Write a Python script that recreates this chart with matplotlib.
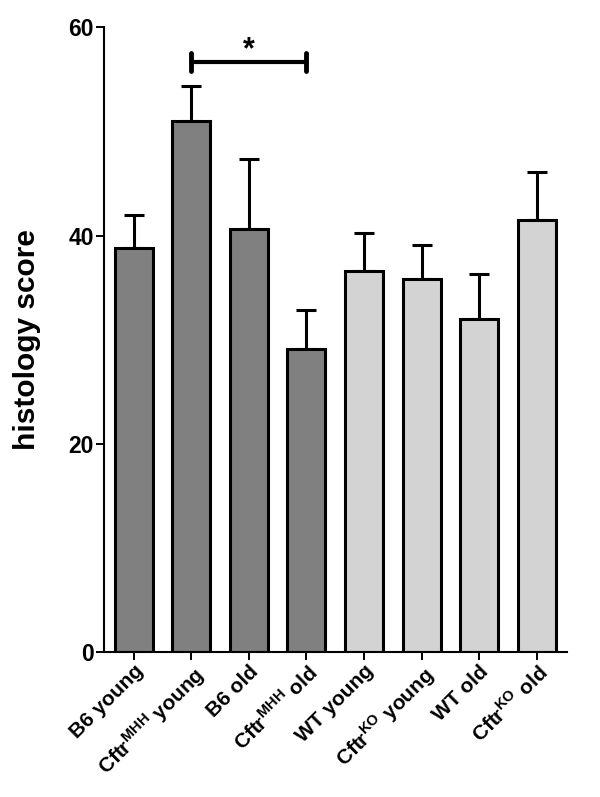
import matplotlib
matplotlib.use("Agg")
import matplotlib.pyplot as plt
import numpy as np

plt.rcParams['font.family'] = ['Liberation Sans', 'DejaVu Sans']
plt.rcParams['font.weight'] = 'bold'
plt.rcParams['mathtext.fontset'] = 'custom'
plt.rcParams['mathtext.rm'] = 'Liberation Sans:bold'
plt.rcParams['mathtext.bf'] = 'Liberation Sans:bold'

# data
groups = ['B6 young', r'Cftr$^{\mathrm{MHH}}$ young', 'B6 old', r'Cftr$^{\mathrm{MHH}}$ old',
          'WT young', r'Cftr$^{\mathrm{KO}}$ young', 'WT old', r'Cftr$^{\mathrm{KO}}$ old']
means = [38.8, 51.0, 40.6, 29.1, 36.6, 35.8, 32.0, 41.5]
upper = [42.0, 54.4, 47.4, 32.9, 40.3, 39.1, 36.3, 46.1]
colors = ['#808080'] * 4 + ['#d3d3d3'] * 4
sig_pair = (1, 3)
sig_y = 56.7

x = np.arange(len(groups))
err = np.array(upper) - np.array(means)

fig = plt.figure(figsize=(6, 7.97), dpi=100)
ax = fig.add_axes([0.173, 0.182, 0.7715, 0.7835])

ax.bar(x, means, width=0.66, color=colors, edgecolor='black', linewidth=2.2, zorder=2)
ax.errorbar(x, means, yerr=[np.zeros_like(err), err], fmt='none', ecolor='black',
            elinewidth=2.2, capsize=7.5, capthick=2.2, zorder=1)

# significance bracket
ax.plot([sig_pair[0], sig_pair[1]], [sig_y, sig_y], color='black', lw=3, solid_capstyle='butt')
for xx in sig_pair:
    ax.plot([xx, xx], [sig_y - 0.85, sig_y + 0.85], color='black', lw=3.5, solid_capstyle='round')
ax.text(np.mean(sig_pair), sig_y + 0.35, '*', ha='center', va='baseline', fontsize=22, fontweight='bold')

ax.set_xlim(-0.52, 7.52)
ax.set_ylim(0, 60)
ax.set_yticks([0, 20, 40, 60])
ax.set_xticks(x)
ax.set_xticklabels(groups, rotation=45, ha='right', rotation_mode='anchor', fontsize=15,
                   fontweight='bold')
ax.tick_params(axis='y', labelsize=16.5, width=1.4, length=6, pad=1)
ax.tick_params(axis='x', width=1.4, length=6, pad=1)
for lab in ax.get_yticklabels():
    lab.set_fontweight('bold')

ax.set_ylabel('histology score', fontsize=21.5, fontweight='bold')
ax.yaxis.set_label_coords(-0.135, 0.5)

for s in ['top', 'right']:
    ax.spines[s].set_visible(False)
for s in ['left', 'bottom']:
    ax.spines[s].set_linewidth(1.5)

fig.savefig('out.png', dpi=100)
